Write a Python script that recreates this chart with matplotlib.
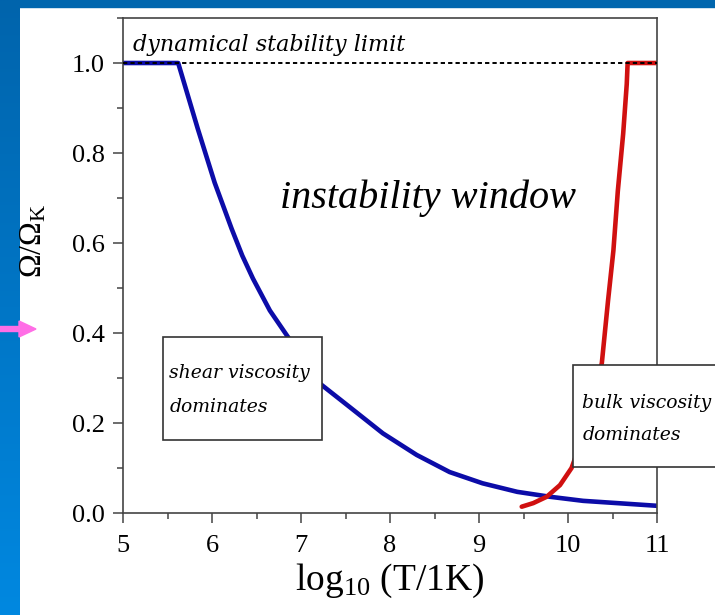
import numpy as np
import matplotlib.pyplot as plt
from matplotlib.patches import Rectangle, FancyArrow
from matplotlib.colors import LinearSegmentedColormap
from matplotlib.ticker import MultipleLocator, FormatStrFormatter

plt.rcParams['font.family'] = 'Liberation Serif'
plt.rcParams['mathtext.fontset'] = 'custom'
plt.rcParams['mathtext.rm'] = 'Liberation Serif'
plt.rcParams['mathtext.it'] = 'Liberation Serif:italic'

# shear viscosity branch (log10 T, Omega/Omega_K)
shear_T = [5.0, 5.62, 5.84, 6.03, 6.22, 6.34, 6.46, 6.65, 6.84, 7.21, 7.55,
           7.92, 8.30, 8.67, 9.04, 9.43, 9.80, 10.17, 10.55, 11.0]
shear_om = [1.0, 1.0, 0.854, 0.734, 0.632, 0.572, 0.521, 0.45, 0.395, 0.288, 0.235,
            0.177, 0.129, 0.091, 0.066, 0.047, 0.036, 0.027, 0.022, 0.016]

# bulk viscosity branch
bulk_T = [9.48, 9.61, 9.76, 9.91, 10.04, 10.15, 10.27, 10.38, 10.45, 10.51,
          10.56, 10.62, 10.66, 10.67, 11.0]
bulk_om = [0.014, 0.022, 0.036, 0.062, 0.10, 0.16, 0.24, 0.333, 0.472, 0.583,
           0.716, 0.843, 0.953, 1.0, 1.0]

limit = 1.0
x_ticks = [5, 6, 7, 8, 9, 10, 11]
y_ticks = [0.0, 0.2, 0.4, 0.6, 0.8, 1.0]

fig = plt.figure(figsize=(7.15, 6.15), dpi=100)
fig.patch.set_facecolor('white')

# slide background: blue strip on the left and along the top
band = fig.add_axes([0, 0, 20 / 715, 1])
grad = np.linspace(0, 1, 256).reshape(-1, 1)
band.imshow(grad, aspect='auto', extent=[0, 1, 0, 1],
            cmap=LinearSegmentedColormap.from_list('b', ['#0064ac', '#0088e0']))
band.axis('off')
fig.add_artist(Rectangle((0, 1 - 7 / 615), 1, 7 / 615, transform=fig.transFigure,
                         color='#0066ae', zorder=0))

ax = fig.add_axes([123 / 715, 1 - 513 / 615, 534 / 715, 495 / 615])
ax.set_xlim(5, 11)
ax.set_ylim(0, 1.1)

ax.plot(shear_T, shear_om, color='#0c0ca8', lw=3.3, zorder=2,
        solid_capstyle='round', solid_joinstyle='round')
ax.plot(bulk_T, bulk_om, color='#d01010', lw=3.3, zorder=2,
        solid_capstyle='round', solid_joinstyle='round')
ax.plot([5, 11], [limit, limit], color='black', ls=(0, (2.2, 1.6)), lw=1.4, zorder=3)

for sp in ax.spines.values():
    sp.set_color('#444444')
    sp.set_linewidth(1.2)

ax.set_xticks(x_ticks)
ax.set_yticks(y_ticks)
ax.xaxis.set_minor_locator(MultipleLocator(0.5))
ax.yaxis.set_minor_locator(MultipleLocator(0.1))
ax.yaxis.set_major_formatter(FormatStrFormatter('%.1f'))
ax.tick_params(which='major', direction='out', length=7, width=1.1, color='#444444',
               labelsize=19, pad=6)
ax.tick_params(which='minor', direction='out', length=4.5, width=1.1, color='#444444')
ax.tick_params(axis='x', which='major', pad=9)

ax.set_xlabel(r'log$_{10}$ (T/1K)', fontsize=27, labelpad=3)
ax.set_ylabel(r'$\Omega$/$\Omega_{\rm K}$', fontsize=23)
ax.yaxis.set_label_coords(-0.14, 0.55)

note = dict(style='italic', family='DejaVu Serif')
ax.text(5.11, 1.04, 'dynamical stability limit', fontsize=16, va='center',
        ha='left', **note)
ax.text(8.43, 0.70, 'instability window', style='italic', fontsize=29,
        va='center', ha='center')

# annotation boxes sit above the curves
ax.add_patch(Rectangle((5.45, 0.162), 1.79, 0.23, facecolor='white',
                       edgecolor='#333333', lw=1.2, zorder=5))
ax.text(5.52, 0.31, 'shear viscosity', fontsize=13.5, va='center', zorder=6, **note)
ax.text(5.52, 0.235, 'dominates', fontsize=13.5, va='center', zorder=6, **note)

ax.add_patch(Rectangle((10.06, 0.102), 1.8, 0.226, facecolor='white',
                       edgecolor='#333333', lw=1.2, zorder=5, clip_on=False))
ax.text(10.16, 0.244, 'bulk viscosity', fontsize=13.5, va='center',
        zorder=6, clip_on=False, **note)
ax.text(10.16, 0.173, 'dominates', fontsize=13.5, va='center',
        zorder=6, clip_on=False, **note)

# pointer arrow at the left margin
fig.add_artist(FancyArrow(
    0, 1 - 329 / 615, 19 / 715, 0, width=5 / 615, head_width=16 / 615,
    head_length=17 / 715, length_includes_head=False, transform=fig.transFigure,
    color='#ff6ee6', zorder=10))

fig.savefig('out.png', dpi=100)
